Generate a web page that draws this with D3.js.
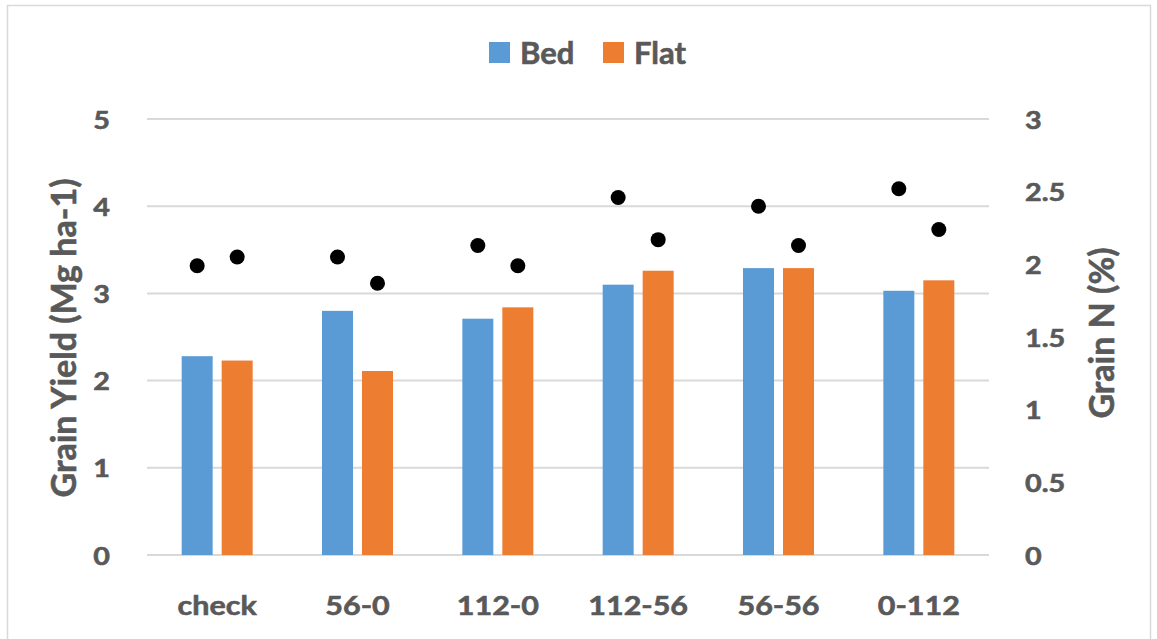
<!DOCTYPE html>
<html>
<head>
<meta charset="utf-8">
<script src="https://cdn.jsdelivr.net/npm/d3@7"></script>
<style>
  html, body { margin: 0; padding: 0; background: #fff; }
  svg { display: block; }
  text { font-family: Lato, "Open Sans", sans-serif; font-weight: 700; fill: #595959;
         stroke: #595959; stroke-width: 0.6px; }
</style>
</head>
<body>
<svg id="chart" width="1157" height="639"></svg>
<script>
// Nitrogen treatments (kg N/ha, split application)
const categories = ["check", "56-0", "112-0", "112-56", "56-56", "0-112"];
const seriesNames = ["Bed", "Flat"];
// Grain yield, Mg/ha
const yieldBed  = [2.28, 2.80, 2.71, 3.10, 3.29, 3.03];
const yieldFlat = [2.23, 2.11, 2.84, 3.26, 3.29, 3.15];
// Grain N concentration, %
const grainNBed  = [1.99, 2.05, 2.13, 2.46, 2.40, 2.52];
const grainNFlat = [2.05, 1.87, 1.99, 2.17, 2.13, 2.24];
// Axis ticks
const yieldTicks = [0, 1, 2, 3, 4, 5];
const grainNTicks = [0, 0.5, 1, 1.5, 2, 2.5, 3];

const colors = { Bed: "#5b9bd5", Flat: "#ed7d31" };
const stretch = 1.15; // horizontal widening of label glyphs

const svg = d3.select("#chart");

// outer chart frame
svg.append("rect")
  .attr("x", 7.5).attr("y", 5.5)
  .attr("width", 1143).attr("height", 640)
  .attr("fill", "none").attr("stroke", "#d9d9d9").attr("stroke-width", 1.5);

const plot = { left: 147, right: 989, top: 119, bottom: 555 };

const x = d3.scaleBand().domain(categories).range([plot.left, plot.right]);
const xInner = d3.scaleBand().domain(seriesNames).range([-35.5, 35.5]).paddingInner(0.225);
const yL = d3.scaleLinear().domain([0, 5]).range([plot.bottom, plot.top]);
const yR = d3.scaleLinear().domain([0, 3]).range([plot.bottom, plot.top]);

// horizontal gridlines
svg.append("g")
  .selectAll("line")
  .data(yieldTicks)
  .join("line")
  .attr("x1", plot.left).attr("x2", plot.right)
  .attr("y1", d => yL(d)).attr("y2", d => yL(d))
  .attr("stroke", "#d9d9d9").attr("stroke-width", 2);

// bars
const rows = categories.map((c, i) => ({
  cat: c,
  values: [
    { s: "Bed", y: yieldBed[i], n: grainNBed[i] },
    { s: "Flat", y: yieldFlat[i], n: grainNFlat[i] }
  ]
}));

const groups = svg.append("g")
  .selectAll("g")
  .data(rows)
  .join("g")
  .attr("transform", d => `translate(${x(d.cat) + x.bandwidth() / 2},0)`);

groups.selectAll("rect")
  .data(d => d.values)
  .join("rect")
  .attr("x", d => xInner(d.s))
  .attr("width", xInner.bandwidth())
  .attr("y", d => yL(d.y))
  .attr("height", d => yL(0) - yL(d.y))
  .attr("fill", d => colors[d.s]);

// grain N markers on the secondary axis
groups.selectAll("circle")
  .data(d => d.values)
  .join("circle")
  .attr("cx", d => xInner(d.s) + xInner.bandwidth() / 2)
  .attr("cy", d => yR(d.n))
  .attr("r", 7.5)
  .attr("fill", "#000");

// left axis
const axL = svg.append("g")
  .attr("transform", `translate(${plot.left},0)`)
  .call(d3.axisLeft(yL).tickValues(yieldTicks).tickSize(0).tickFormat(d3.format("d")));
axL.select(".domain").remove();
axL.selectAll("text")
  .attr("x", -37 / stretch)
  .attr("dy", "0.36em")
  .attr("transform", `scale(${stretch},1)`)
  .style("font-size", "25px");

// right axis
const axR = svg.append("g")
  .attr("transform", `translate(${plot.right},0)`)
  .call(d3.axisRight(yR).tickValues(grainNTicks).tickSize(0).tickFormat(d => String(d)));
axR.select(".domain").remove();
axR.selectAll("text")
  .attr("x", 36 / stretch)
  .attr("dy", "0.36em")
  .attr("transform", `scale(${stretch},1)`)
  .style("font-size", "25px");

// bottom category axis
const axB = svg.append("g")
  .call(d3.axisBottom(x).tickSize(0));
axB.select(".domain").remove();
axB.selectAll("text")
  .attr("y", 50)
  .attr("dy", "0.36em")
  .style("font-size", "26.5px");
// keep labels centered under each group after the horizontal stretch
axB.selectAll(".tick").attr("transform", d => `translate(${(x(d) + x.bandwidth() / 2) / stretch},0)`);
axB.attr("transform", `translate(0,${plot.bottom}) scale(${stretch},1)`);

// axis titles
svg.append("text")
  .attr("transform", "translate(76,338) rotate(-90)")
  .attr("text-anchor", "middle")
  .style("font-size", "34px")
  .text("Grain Yield  (Mg ha-1)");

svg.append("text")
  .attr("transform", "translate(1114,333) rotate(-90)")
  .attr("text-anchor", "middle")
  .style("font-size", "34px")
  .text("Grain N (%)");

// legend
const legend = svg.append("g").attr("transform", "translate(489,42)");
const legendItems = legend.selectAll("g")
  .data(seriesNames)
  .join("g")
  .attr("transform", (d, i) => `translate(${i * 114},0)`);
legendItems.append("rect")
  .attr("width", 21).attr("height", 21)
  .attr("fill", d => colors[d]);
legendItems.append("text")
  .attr("x", 31).attr("y", 10.5)
  .attr("dy", "0.36em")
  .style("font-size", "31px")
  .text(d => d);
</script>
</body>
</html>
